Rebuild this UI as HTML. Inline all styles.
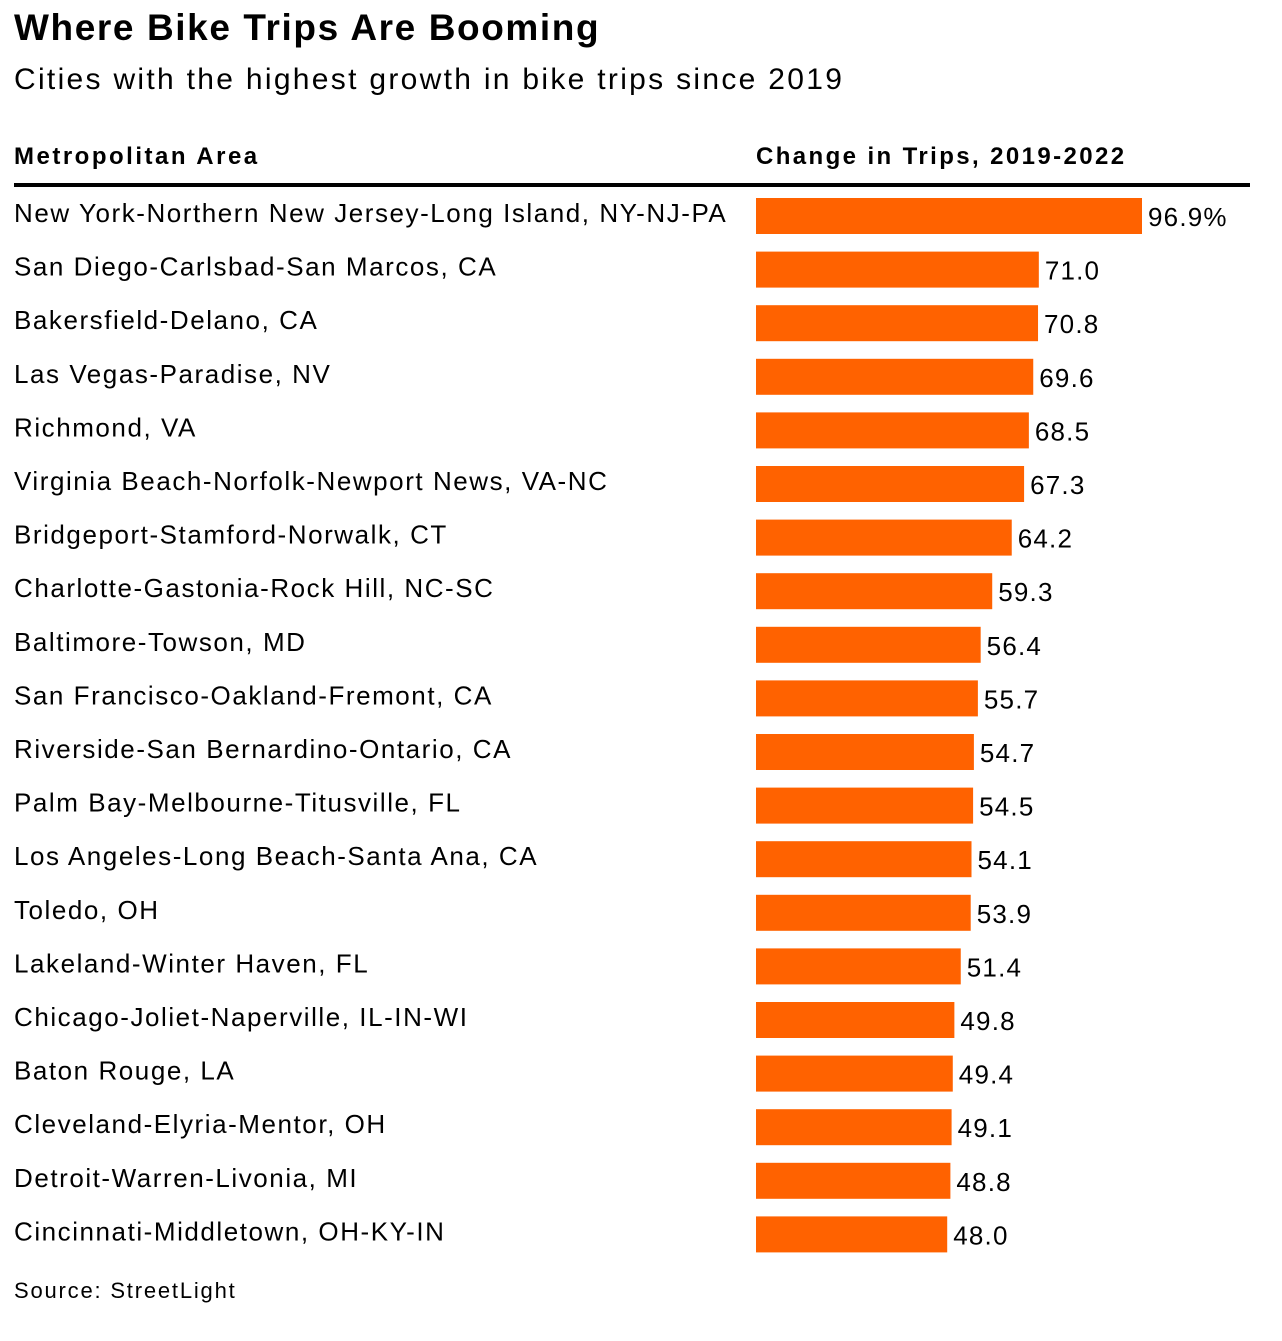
<!DOCTYPE html>
<html><head><meta charset="utf-8"><style>
body{margin:0;background:#fff;width:1282px;height:1336px;overflow:hidden;font-family:"Liberation Sans",sans-serif;color:#000}
</style></head><body>
<svg width="1282" height="1336" xmlns="http://www.w3.org/2000/svg" id="svg">
<text x="14" y="40" font-size="37" font-weight="bold" letter-spacing="1.6" font-family="Liberation Sans, sans-serif">Where Bike Trips Are Booming</text>
<text x="14" y="89" font-size="30" letter-spacing="2.3" font-family="Liberation Sans, sans-serif">Cities with the highest growth in bike trips since 2019</text>
<text x="14" y="164" font-size="24" font-weight="bold" letter-spacing="2.5" font-family="Liberation Sans, sans-serif">Metropolitan Area</text>
<text x="756" y="164" font-size="24" font-weight="bold" letter-spacing="2.4" font-family="Liberation Sans, sans-serif">Change in Trips, 2019-2022</text>
<rect x="14" y="183" width="1236" height="4" fill="#000"/>
<text x="14" y="1298" font-size="22" letter-spacing="1.8" font-family="Liberation Sans, sans-serif">Source: StreetLight</text>
<g id="rows"></g>
</svg>
<script>
const categories=["New York-Northern New Jersey-Long Island, NY-NJ-PA","San Diego-Carlsbad-San Marcos, CA","Bakersfield-Delano, CA","Las Vegas-Paradise, NV","Richmond, VA","Virginia Beach-Norfolk-Newport News, VA-NC","Bridgeport-Stamford-Norwalk, CT","Charlotte-Gastonia-Rock Hill, NC-SC","Baltimore-Towson, MD","San Francisco-Oakland-Fremont, CA","Riverside-San Bernardino-Ontario, CA","Palm Bay-Melbourne-Titusville, FL","Los Angeles-Long Beach-Santa Ana, CA","Toledo, OH","Lakeland-Winter Haven, FL","Chicago-Joliet-Naperville, IL-IN-WI","Baton Rouge, LA","Cleveland-Elyria-Mentor, OH","Detroit-Warren-Livonia, MI","Cincinnati-Middletown, OH-KY-IN"];
const values=[96.9,71.0,70.8,69.6,68.5,67.3,64.2,59.3,56.4,55.7,54.7,54.5,54.1,53.9,51.4,49.8,49.4,49.1,48.8,48.0];
const valueLabels=["96.9%","71.0","70.8","69.6","68.5","67.3","64.2","59.3","56.4","55.7","54.7","54.5","54.1","53.9","51.4","49.8","49.4","49.1","48.8","48.0"];
const NS="http://www.w3.org/2000/svg";
const x0=756, scale=(1142-756)/96.9;
const xPos=v=>x0+v*scale;
const yPos=i=>198+i*53.6;
const g=document.getElementById('rows');
categories.forEach((c,i)=>{
  const y=yPos(i);
  const t=document.createElementNS(NS,'text');
  t.setAttribute('x',14);t.setAttribute('y',y+24);
  t.setAttribute('font-size','26');t.setAttribute('letter-spacing','1.55');t.setAttribute('font-family','Liberation Sans, sans-serif');
  t.textContent=c;
  
  
  g.appendChild(t);
  const r=document.createElementNS(NS,'rect');
  r.setAttribute('x',x0);r.setAttribute('y',y);r.setAttribute('width',xPos(values[i])-x0);r.setAttribute('height',36);r.setAttribute('fill','#ff6200');
  
  
  g.appendChild(r);
  const v=document.createElementNS(NS,'text');
  v.setAttribute('x',xPos(values[i])+6);v.setAttribute('y',y+28);
  v.setAttribute('font-size','26');v.setAttribute('letter-spacing','1.2');v.setAttribute('font-family','Liberation Sans, sans-serif');
  v.textContent=valueLabels[i];
  
  
  g.appendChild(v);
});
</script>
</body></html>
